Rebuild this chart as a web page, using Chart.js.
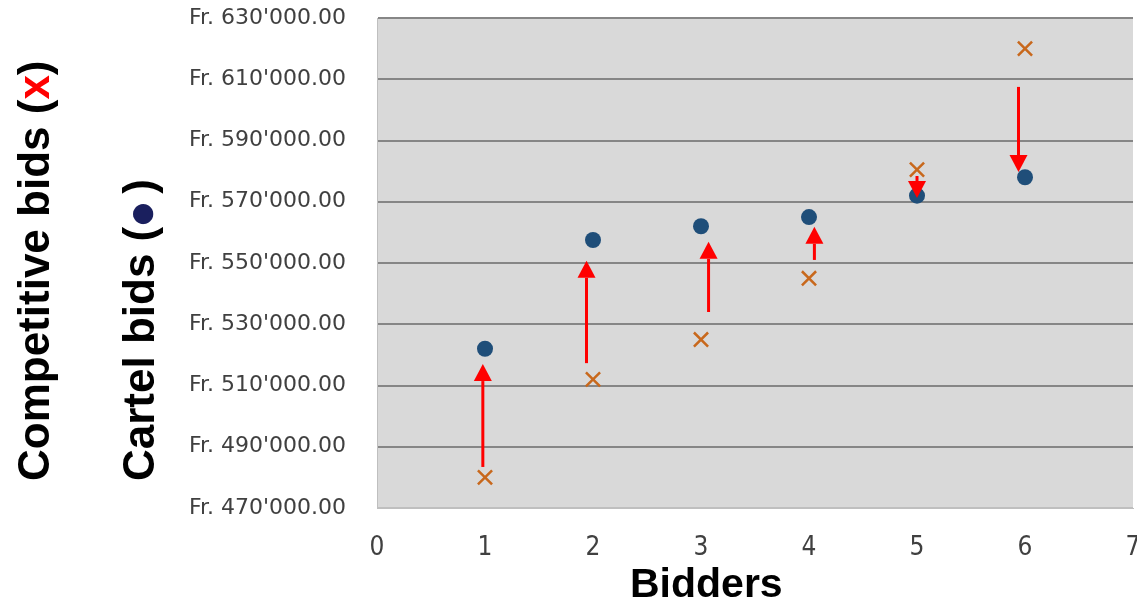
<!DOCTYPE html>
<html>
<head>
<meta charset="utf-8">
<script src="https://cdn.jsdelivr.net/npm/chart.js@4/dist/chart.umd.min.js"></script>
<style>
  html, body { margin: 0; padding: 0; background: #ffffff; }
  #wrap { position: relative; width: 1137px; height: 602px; overflow: hidden; }
  #chart { position: absolute; left: 0; top: 0; }
  .title {
    position: absolute;
    white-space: nowrap;
    font-family: "Liberation Sans", Arial, sans-serif;
    font-weight: bold;
    color: #000000;
    line-height: 1;
  }
  .ytitle { transform: rotate(-90deg); transform-origin: 0 0; }
  .red { color: #ff0000; }
  .navy { color: #1a1f5e; font-family: "DejaVu Sans", sans-serif; font-size: 0.6em; vertical-align: 0.14em; margin: 0 9px 0 1px; }
</style>
</head>
<body>
<div id="wrap">
  <canvas id="chart" width="1137" height="602"></canvas>
  <div class="title ytitle" style="left:12px; top:481px; font-size:44px;">Competitive bids (<span class="red">x</span>)</div>
  <div class="title ytitle" style="left:117px; top:481px; font-size:44px;">Cartel bids (<span class="navy">●</span>)</div>
  <div class="title" style="left:630px; top:563px; font-size:41px;">Bidders</div>
</div>
<script>
// Bidders 1..6
const bidders = [1, 2, 3, 4, 5, 6];
// Cartel bids (CHF)
const cartelBids = [522000, 557500, 562000, 565000, 572000, 578000];
// Competitive bids (CHF)
const competitiveBids = [480000, 512000, 525000, 545000, 580500, 620000];

// Arrows showing the shift from competitive to cartel bid
const arrowX = [0.98, 1.94, 3.07, 4.05, 5.0, 5.94];
const arrowFrom = [483400, 517300, 534000, 551000, 578400, 607500];
const arrowTo = [517000, 550700, 556900, 561800, 571200, 579700];

// Axis ranges and ticks
const yMin = 470000, yMax = 630000, yStep = 20000;
const xMin = 0, xMax = 7, xStep = 1;

function formatFr(v) {
  const s = Math.round(v).toString().replace(/\B(?=(\d{3})+(?!\d))/g, "'");
  return 'Fr. ' + s + '.00';
}

const plotBackground = {
  id: 'plotBackground',
  beforeDraw(chart) {
    const { ctx, chartArea: a } = chart;
    ctx.save();
    ctx.fillStyle = '#d9d9d9';
    ctx.fillRect(a.left, a.top, a.right - a.left, a.bottom - a.top);
    ctx.restore();
  }
};

const shiftArrows = {
  id: 'shiftArrows',
  afterDatasetsDraw(chart) {
    const { ctx } = chart;
    const xs = chart.scales.x, ys = chart.scales.y;
    ctx.save();
    ctx.strokeStyle = '#ff0000';
    ctx.fillStyle = '#ff0000';
    ctx.lineWidth = 3;
    const headLen = 17, headHalf = 9;
    for (let i = 0; i < arrowX.length; i++) {
      const x = xs.getPixelForValue(arrowX[i]);
      const y0 = ys.getPixelForValue(arrowFrom[i]);
      const y1 = ys.getPixelForValue(arrowTo[i]);
      const dir = y1 < y0 ? -1 : 1;
      const base = y1 - dir * headLen;
      ctx.beginPath();
      ctx.moveTo(x, y0);
      ctx.lineTo(x, base);
      ctx.stroke();
      ctx.beginPath();
      ctx.moveTo(x, y1);
      ctx.lineTo(x - headHalf, base);
      ctx.lineTo(x + headHalf, base);
      ctx.closePath();
      ctx.fill();
    }
    ctx.restore();
  }
};

new Chart(document.getElementById('chart'), {
  type: 'scatter',
  data: {
    datasets: [
      {
        label: 'Cartel bids',
        data: bidders.map((b, i) => ({ x: b, y: cartelBids[i] })),
        pointStyle: 'circle',
        pointRadius: 8,
        pointHoverRadius: 8,
        backgroundColor: '#1f4e79',
        borderColor: '#1f4e79',
        borderWidth: 0
      },
      {
        label: 'Competitive bids',
        data: bidders.map((b, i) => ({ x: b, y: competitiveBids[i] })),
        pointStyle: 'crossRot',
        pointRadius: 10,
        pointHoverRadius: 10,
        borderColor: '#c8681c',
        backgroundColor: '#c8681c',
        borderWidth: 2.5
      }
    ]
  },
  options: {
    responsive: false,
    animation: false,
    events: [],
    layout: { autoPadding: false, padding: { top: 18, right: 4, left: 0, bottom: 0 } },
    plugins: {
      legend: { display: false },
      tooltip: { enabled: false }
    },
    scales: {
      x: {
        type: 'linear',
        min: xMin,
        max: xMax,
        afterFit(scale) {
          scale.height = 94;
          scale.paddingLeft = 0;
          scale.paddingRight = 0;
        },
        grid: { display: false, drawTicks: false },
        border: { display: true, color: '#bfbfbf', width: 1 },
        ticks: {
          stepSize: xStep,
          padding: 25,
          color: '#404040',
          font: { family: '"Liberation Sans Narrow", "DejaVu Sans Condensed", sans-serif', size: 26 }
        }
      },
      y: {
        type: 'linear',
        min: yMin,
        max: yMax,
        afterFit(scale) {
          scale.width = 377;
          scale.paddingTop = 0;
          scale.paddingBottom = 0;
        },
        grid: {
          drawTicks: false,
          lineWidth: 2,
          color: (c) => (c.tick && c.tick.value === yMin ? '#bfbfbf' : '#868686')
        },
        border: { display: true, color: '#bfbfbf', width: 1 },
        ticks: {
          stepSize: yStep,
          padding: 31,
          color: '#404040',
          font: { family: '"DejaVu Sans", sans-serif', size: 22 },
          callback: (v) => formatFr(v)
        }
      }
    }
  },
  plugins: [plotBackground, shiftArrows]
});
</script>
</body>
</html>
